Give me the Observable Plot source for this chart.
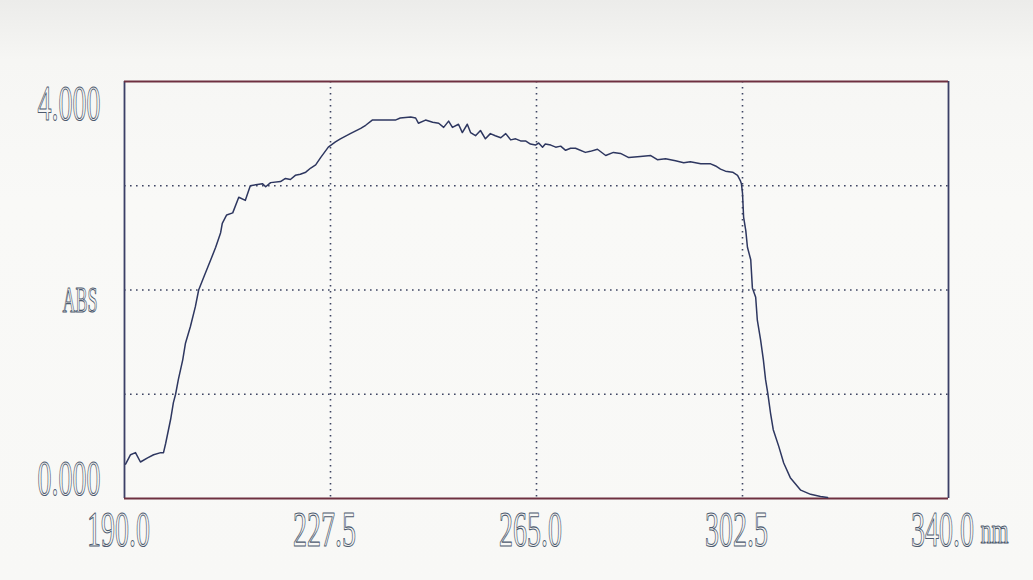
<!DOCTYPE html>
<html>
<head>
<meta charset="utf-8">
<script src="https://cdn.jsdelivr.net/npm/d3@7"></script>
<script src="https://cdn.jsdelivr.net/npm/@observablehq/plot@0.6"></script>
<style>
  html, body { margin: 0; padding: 0; }
  body { width: 1033px; height: 580px; overflow: hidden;
         background: linear-gradient(#ececea 0px, #f6f6f4 60px, #f9f9f7 200px, #f8f8f6 580px); }
  #chart svg { display: block; background: transparent; }
</style>
</head>
<body>
<div id="chart"></div>
<script>
// Wavelength (nm) and absorbance
const wavelength = [190.2,191.1,192.0,192.9,194.2,195.3,196.6,197.1,197.5,198.4,198.9,199.3,199.8,200.6,201.1,202.0,202.9,203.5,204.4,205.7,206.6,207.5,207.8,208.6,209.7,210.8,212.0,212.9,215.1,215.7,216.6,218.4,219.3,220.2,221.1,222.0,223.0,223.9,224.8,225.7,227.1,228.4,229.3,231.1,233.0,233.9,235.1,239.3,240.2,242.1,243.0,243.5,244.8,246.1,247.2,248.1,249.0,249.7,250.8,251.5,252.4,253.0,253.9,254.8,255.7,256.6,257.5,258.5,259.4,260.3,261.2,262.1,263.0,263.9,264.8,265.4,266.1,266.6,267.6,268.5,269.4,270.3,271.2,272.1,273.9,274.8,276.1,277.6,279.0,280.3,281.8,283.9,285.8,287.0,288.5,290.3,291.8,293.0,294.9,296.7,297.6,298.5,299.4,300.7,301.6,302.1,302.3,302.5,302.7,303.1,303.4,304.0,304.3,304.9,305.2,305.8,306.3,306.7,307.1,307.6,308.1,309.1,310.0,311.2,313.1,314.9,316.7,318.0];
const absorbance = [0.33,0.42,0.44,0.35,0.39,0.42,0.44,0.44,0.53,0.76,0.92,1.00,1.14,1.33,1.49,1.65,1.84,2.00,2.12,2.29,2.41,2.55,2.64,2.72,2.74,2.89,2.86,3.00,3.02,2.99,3.03,3.04,3.07,3.06,3.10,3.11,3.13,3.17,3.20,3.27,3.37,3.42,3.45,3.50,3.55,3.58,3.63,3.63,3.65,3.66,3.65,3.60,3.63,3.61,3.60,3.56,3.62,3.56,3.59,3.51,3.59,3.51,3.48,3.53,3.45,3.50,3.48,3.46,3.50,3.44,3.45,3.43,3.43,3.40,3.39,3.41,3.37,3.40,3.39,3.37,3.38,3.34,3.36,3.36,3.32,3.33,3.35,3.29,3.32,3.31,3.27,3.28,3.29,3.25,3.26,3.24,3.22,3.23,3.21,3.21,3.19,3.16,3.14,3.13,3.10,3.05,3.02,2.93,2.70,2.57,2.41,2.29,2.02,1.93,1.71,1.52,1.33,1.14,1.01,0.82,0.66,0.50,0.34,0.20,0.08,0.04,0.02,0.01];

const xTicks = [190.0, 227.5, 265.0, 302.5, 340.0];
const xTickLabels = ["190.0", "227.5", "265.0", "302.5", "340.0"];
const xUnit = "nm";
const yGrid = [1, 2, 3];
const yTop = 4, yMid = 2, yBottom = 0;
const yTopLabel = "4.000", yMidLabel = "ABS", yBottomLabel = "0.000";

const spectrum = wavelength.map((w, i) => ({w, a: absorbance[i]}));

const labelFont = "Liberation Serif";
const labelStyle = {fill: "none", stroke: "#4d5a6e", strokeWidth: 1.1, fontSize: 50, fontFamily: labelFont};

const plot = Plot.plot({
  width: 1033,
  height: 580,
  marginLeft: 124,
  marginRight: 85,
  marginTop: 81,
  marginBottom: 82,
  style: {background: "transparent", overflow: "visible"},
  x: {domain: [190, 340], axis: null},
  y: {domain: [0, 4], axis: null},
  marks: [
    Plot.gridX(xTicks.slice(1, -1), {stroke: "#3e4563", strokeOpacity: 1, strokeWidth: 1.6, strokeDasharray: "1.6,4.4"}),
    Plot.gridY(yGrid, {stroke: "#3e4563", strokeOpacity: 1, strokeWidth: 1.6, strokeDasharray: "1.6,4.4"}),
    Plot.ruleX([190, 340], {stroke: "#3b3f66", strokeWidth: 1.8}),
    Plot.ruleY([0, 4], {stroke: "#6e3040", strokeWidth: 2}),
    Plot.line(spectrum, {x: "w", y: "a", stroke: "#2e3760", strokeWidth: 1.5}),
    Plot.text(xTicks, {ariaLabel: () => "xlabels", x: d => d, text: (d, i) => xTickLabels[i], frameAnchor: "bottom", dy: 31, dx: -6, lineAnchor: "middle", textAnchor: "middle", ...labelStyle}),
    Plot.text([340], {ariaLabel: () => "xunit", x: d => d, text: () => xUnit, frameAnchor: "bottom", dy: 33, dx: 32, lineAnchor: "middle", textAnchor: "start", ...labelStyle, fontSize: 36}),
    Plot.text([yTop], {ariaLabel: () => "ylabels", y: d => d, text: () => yTopLabel, frameAnchor: "left", dx: -24, dy: 22, lineAnchor: "middle", textAnchor: "end", ...labelStyle}),
    Plot.text([yMid], {ariaLabel: () => "yabs", y: d => d, text: () => yMidLabel, frameAnchor: "left", dx: -27, dy: 10, lineAnchor: "middle", textAnchor: "end", ...labelStyle, fontSize: 36}),
    Plot.text([yBottom], {ariaLabel: () => "ylabels", y: d => d, text: () => yBottomLabel, frameAnchor: "left", dx: -24, dy: -20, lineAnchor: "middle", textAnchor: "end", ...labelStyle})
  ]
});

// squeeze the labels horizontally to mimic the instrument's condensed plotter font
const svg = d3.select(plot);
svg.selectAll('text[aria-label="xlabels"], text[aria-label="ylabels"]')
  .attr("textLength", 63).attr("lengthAdjust", "spacingAndGlyphs");
svg.selectAll('text[aria-label="yabs"]')
  .attr("textLength", 35).attr("lengthAdjust", "spacingAndGlyphs");
svg.selectAll('text[aria-label="xunit"]')
  .attr("textLength", 28).attr("lengthAdjust", "spacingAndGlyphs");

document.getElementById("chart").append(plot);
</script>
</body>
</html>
